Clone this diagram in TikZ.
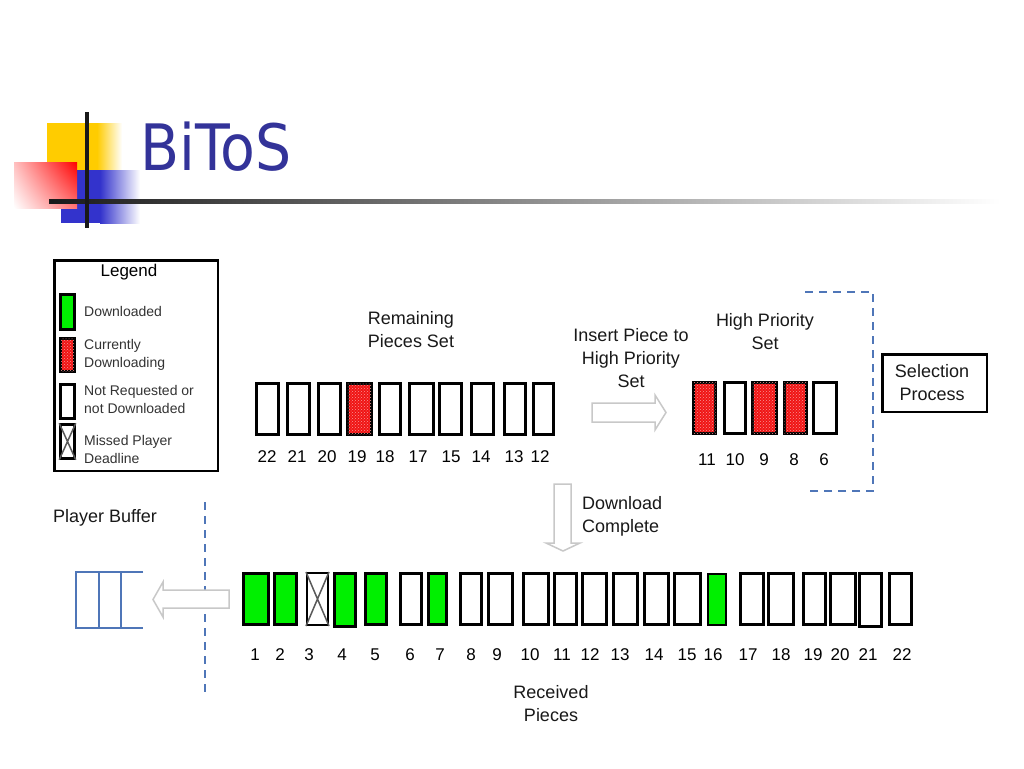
\documentclass[tikz,border=0pt]{standalone}
\usepackage{fontspec}
\setmainfont{Liberation Sans}
\newfontfamily\titlefont{DejaVu Sans}
\usetikzlibrary{patterns,shadings}
\definecolor{titleblue}{RGB}{51,51,153}
\definecolor{deco yellow}{RGB}{255,204,0}
\definecolor{deco blue}{RGB}{51,51,204}
\definecolor{dlgreen}{RGB}{0,240,0}
\definecolor{dlred}{RGB}{240,20,20}
\definecolor{dashblue}{RGB}{79,118,184}
\definecolor{arrowgray}{RGB}{200,200,200}
\tikzset{
  piece/.style={draw=black, line width=3pt, fill=white, inner sep=0pt, minimum height=51pt},
  green piece/.style={piece, fill=dlgreen},
  red piece/.style={piece, fill=dlred, postaction={pattern=crosshatch dots, pattern color=white!55!dlred}},
  missed piece/.style={piece, line width=2pt},
  num/.style={font=\fontsize{17}{20}\selectfont, inner sep=0pt, text=black},
  lab/.style={font=\fontsize{18}{23}\selectfont, align=center, inner sep=0pt, text=black!90},
  leglab/.style={font=\fontsize{14}{18}\selectfont, align=left, anchor=west, inner sep=0pt, text=black!80},
  legbox/.style={draw=black, line width=2.5pt, inner sep=0pt, minimum width=14pt, minimum height=34pt},
  hollow/.style={draw=arrowgray, line width=1.5pt, fill=white},
  bluedash/.style={draw=dashblue, line width=2pt, dash pattern=on 8pt off 6pt},
}
\begin{document}
\begin{tikzpicture}[x=1pt,y=-1pt]
\useasboundingbox (0,0) rectangle (1024,768);
\fill[white] (0,0) rectangle (1024,768);
% ---------- title decoration ----------
\fill[deco yellow] (47,123) rectangle (97,172);
\shade[left color=deco yellow, right color=white] (97,123) rectangle (122,172);
\fill[deco blue] (61,170) rectangle (100,223);
\shade[left color=deco blue, right color=white] (100,170) rectangle (140,223);
\shade[upper left=red!25, upper right=red, lower right=red!55, lower left=white] (14,162) rectangle (77,208);
\shade[left color=black!90, right color=white] (49,199) rectangle (1000,203);
\fill[black!90] (85,112) rectangle (89,228);
\node[anchor=base west, inner sep=0pt, text=titleblue, font=\titlefont\fontsize{64}{70}\selectfont, xscale=0.89] (title) at (140,170) {BiToS};
% ---------- legend ----------
\node[draw=black, line width=2.5pt, minimum width=163.5pt, minimum height=210.5pt, inner sep=0pt] (legend) at (136,365.5) {};
\node[inner sep=0pt, font=\fontsize{17}{20}\selectfont] (legtitle) at (129,272) {Legend};
\node[legbox, fill=dlgreen, minimum height=35pt] (lgreen) at (67.5,312) {};
\node[legbox, fill=dlred, postaction={pattern=crosshatch dots, pattern color=white!55!dlred}, minimum height=33pt] (lred) at (67.5,355) {};
\node[legbox, fill=white] (lwhite) at (67.5,401.5) {};
\node[legbox, fill=white] (lmiss) at (67.5,441.5) {};
\draw[black!65, line width=1.5pt] (lmiss.north west) -- (lmiss.south east) (lmiss.north east) -- (lmiss.south west);
\node[leglab] (tgreen) at (84,311) {Downloaded};
\node[leglab] (tred) at (84,355) {Currently\\Downloading};
\node[leglab] (twhite) at (84,399.5) {Not Requested or\\not Downloaded};
\node[leglab] (tmiss) at (84,449.5) {Missed Player\\Deadline};
% ---------- remaining pieces set ----------
\node[lab] (remlab) at (411,330) {Remaining\\Pieces Set};
\node[piece, minimum width=22pt] (s22) at (267.5,408.5) {};
\node[piece, minimum width=22pt] (s21) at (298.5,408.5) {};
\node[piece, minimum width=22pt] (s20) at (329.5,408.5) {};
\node[red piece, minimum width=24pt] (s19) at (359.5,408.5) {};
\node[piece, minimum width=21pt] (s18) at (390,408.5) {};
\node[piece, minimum width=24pt] (s17) at (421.5,408.5) {};
\node[piece, minimum width=22pt] (s15) at (450.5,408.5) {};
\node[piece, minimum width=22pt] (s14) at (482.5,408.5) {};
\node[piece, minimum width=21pt] (s13) at (515,408.5) {};
\node[piece, minimum width=20pt] (s12) at (543.5,408.5) {};
\node[num] (n22) at (267,457) {22};
\node[num] (n21) at (297,457) {21};
\node[num] (n20) at (327,457) {20};
\node[num] (n19) at (357,457) {19};
\node[num] (n18) at (385,457) {18};
\node[num] (n17) at (418,457) {17};
\node[num] (n15) at (451,457) {15};
\node[num] (n14) at (481,457) {14};
\node[num] (n13) at (514,457) {13};
\node[num] (n12) at (540,457) {12};
% ---------- insert arrow ----------
\node[lab] (inslab) at (631,358) {Insert Piece to\\High Priority\\Set};
\draw[hollow] (592,403) -- (655,403) -- (655,395) -- (666,412.5) -- (655,430) -- (655,422) -- (592,422) -- cycle;
% ---------- high priority set ----------
\node[lab] (hplab) at (765,332) {High Priority\\Set};
\node[red piece, minimum width=22pt] (h11) at (704.5,407.5) {};
\node[piece, minimum width=21pt] (h10) at (735,407.5) {};
\node[red piece, minimum width=24pt] (h9) at (764.5,407.5) {};
\node[red piece, minimum width=22pt] (h8) at (795.5,407.5) {};
\node[piece, minimum width=23pt] (h6) at (825,407.5) {};
\node[num] (m11) at (707,460) {11};
\node[num] (m10) at (735,460) {10};
\node[num] (m9) at (764,460) {9};
\node[num] (m8) at (794,460) {8};
\node[num] (m6) at (824,460) {6};
\draw[bluedash] (805,292) -- (873,292) -- (873,491) -- (805,491);
\node[draw=black, line width=2.5pt, minimum width=104.5pt, minimum height=57.5pt, inner sep=0pt] (selbox) at (934.5,383) {};
\node[lab] (sellab) at (932,383) {Selection\\Process};
% ---------- download complete ----------
\draw[hollow] (554,484) -- (571,484) -- (571,543) -- (580,543) -- (563,551) -- (546,543) -- (554,543) -- cycle;
\node[lab, align=left, anchor=west] (dllab) at (582,516) {Download\\Complete};
% ---------- received pieces ----------
\node[green piece, minimum width=25pt] (r1) at (256,599) {};
\node[green piece, minimum width=22pt] (r2) at (285.5,599) {};
\node[missed piece, minimum width=21pt, minimum height=52pt] (r3) at (317.5,599) {};
\draw[black!65, line width=1.5pt] (r3.north west) -- (r3.south east) (r3.north east) -- (r3.south west);
\node[green piece, minimum width=21pt, minimum height=53pt] (r4) at (345,600) {};
\node[green piece, minimum width=21pt] (r5) at (376,599) {};
\node[piece, minimum width=21pt] (r6) at (411,599) {};
\node[green piece, minimum width=18pt] (r7) at (437.5,599) {};
\node[piece, minimum width=21pt] (r8) at (471,599) {};
\node[piece, minimum width=24pt] (r9) at (500.5,599) {};
\node[piece, minimum width=25pt] (r10) at (536,599) {};
\node[piece, minimum width=22pt] (r11) at (565.5,599) {};
\node[piece, minimum width=24pt] (r12) at (594.5,599) {};
\node[piece, minimum width=24pt] (r13) at (625.5,599) {};
\node[piece, minimum width=24pt] (r14) at (656.5,599) {};
\node[piece, minimum width=26pt] (r15) at (687.5,599) {};
\node[green piece, line width=2pt, minimum width=18pt] (r16) at (717,599) {};
\node[piece, minimum width=23pt] (r17) at (752,599) {};
\node[piece, minimum width=25pt] (r18) at (781,599) {};
\node[piece, minimum width=22pt] (r19) at (814.5,599) {};
\node[piece, minimum width=25pt] (r20) at (843,599) {};
\node[piece, minimum width=22pt, minimum height=53pt] (r21) at (870.5,600) {};
\node[piece, minimum width=22pt] (r22) at (900.5,599) {};
\node[num] (k1) at (255,655) {1};
\node[num] (k2) at (280,655) {2};
\node[num] (k3) at (309,655) {3};
\node[num] (k4) at (342,655) {4};
\node[num] (k5) at (375,655) {5};
\node[num] (k6) at (410,655) {6};
\node[num] (k7) at (440,655) {7};
\node[num] (k8) at (471,655) {8};
\node[num] (k9) at (497,655) {9};
\node[num] (k10) at (530,655) {10};
\node[num] (k11) at (562,655) {11};
\node[num] (k12) at (590,655) {12};
\node[num] (k13) at (620,655) {13};
\node[num] (k14) at (654,655) {14};
\node[num] (k15) at (687,655) {15};
\node[num] (k16) at (713,655) {16};
\node[num] (k17) at (748,655) {17};
\node[num] (k18) at (781,655) {18};
\node[num] (k19) at (813,655) {19};
\node[num] (k20) at (840,655) {20};
\node[num] (k21) at (868,655) {21};
\node[num] (k22) at (902,655) {22};
\node[lab] (reclab) at (551,704) {Received\\Pieces};
% ---------- player buffer ----------
\node[lab, anchor=west] (pblab) at (53,518) {Player Buffer};
\draw[bluedash] (205,502) -- (205,695);
\draw[hollow] (229,590) -- (163,590) -- (163,582) -- (153,599.5) -- (163,617) -- (163,608) -- (229,608) -- cycle;
\coordinate (bufNE) at (143,572);
\coordinate (bufSE) at (143,628);
\draw[draw=dashblue, line width=2pt] (bufNE) -- (76,572) -- (76,628) -- (bufSE);
\draw[draw=dashblue, line width=2pt] (98.5,572) -- (98.5,628) (121,572) -- (121,628);
\end{tikzpicture}
\end{document}
